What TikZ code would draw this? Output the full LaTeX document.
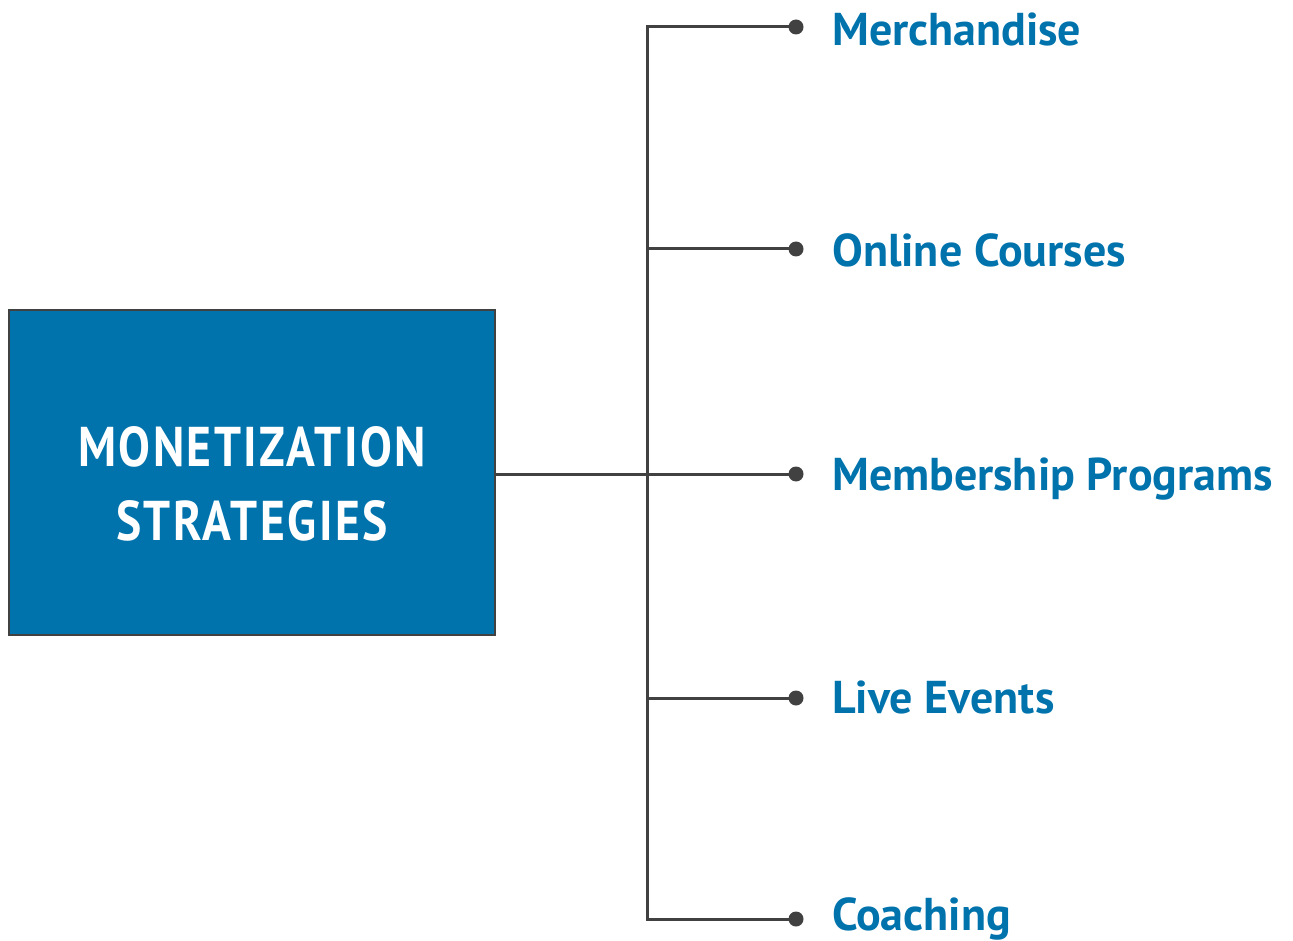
\documentclass[tikz,border=0pt]{standalone}
\usepackage{fontspec}
\newfontfamily\itemfont{PT Sans}
\newfontfamily\titlefont[FakeStretch=0.85,LetterSpace=4.5]{PT Sans}
\definecolor{mblue}{HTML}{0073AD}
\definecolor{mgray}{HTML}{414141}
\tikzset{
  box/.style={draw=mgray, line width=2.5pt, fill=mblue, minimum width=486pt, minimum height=325pt, inner sep=0pt},
  title/.style={text=white, align=center, font=\titlefont\bfseries\fontsize{56}{74}\selectfont},
  dot/.style={circle, fill=mgray, minimum size=15pt, inner sep=0pt},
  item/.style={anchor=base west, text=mblue, inner sep=0pt, font=\itemfont\bfseries\fontsize{46}{56}\selectfont},
  link/.style={draw=mgray, line width=3pt}
}
\begin{document}
\begin{tikzpicture}[x=1pt,y=-1pt]
\useasboundingbox (0,0) rectangle (1293,941);
\node[box] (box) at (252,472.5) {};
\node[title] (t) at (252,483.5) {MONETIZATION\\STRATEGIES};
\coordinate (top) at (647,27);
\coordinate (mid) at (647,474);
\coordinate (bot) at (647,919);
\node[dot] (d1) at (796,27) {};
\node[dot] (d2) at (796,249) {};
\node[dot] (d3) at (796,474) {};
\node[dot] (d4) at (796,698) {};
\node[dot] (d5) at (796,919) {};
\node[item] (merch) at (832,46) {Merchandise};
\node[item] (courses) at (832,267) {Online Courses};
\node[item] (member) at (832,490) {Membership Programs};
\node[item] (events) at (832,713) {Live Events};
\node[item] (coach) at (832,930) {Coaching};
\draw[link] (mid -| box.east) -- (mid);
\draw[link, line cap=rect] (d1.center) -- (top) -- (bot) -- (d5.center);
\draw[link] (d2.center) -- (d2 -| top);
\draw[link] (d3.center) -- (mid);
\draw[link] (d4.center) -- (d4 -| top);
\end{tikzpicture}
\end{document}
